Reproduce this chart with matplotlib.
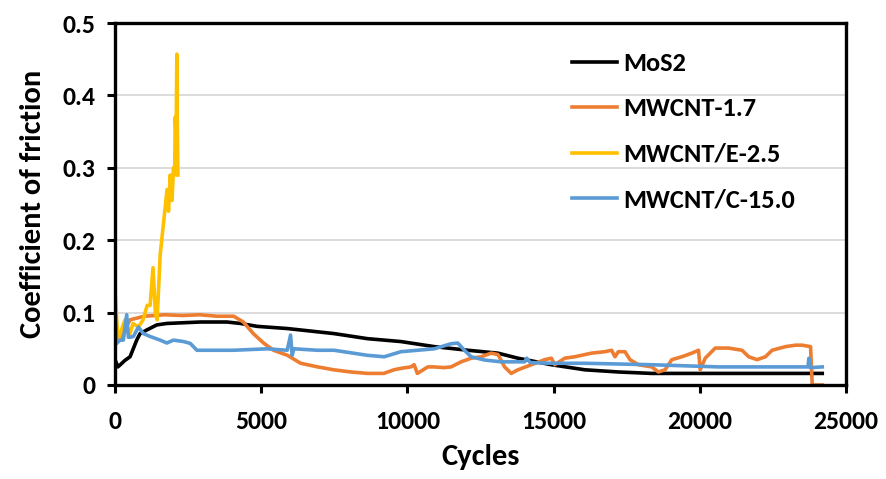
import matplotlib.pyplot as plt
import numpy as np

plt.rcParams['font.family'] = ['Carlito', 'DejaVu Sans']
plt.rcParams['font.weight'] = 'bold'

# MoS2
mos2_x = [0, 100, 340, 515, 743, 857, 1087, 1430, 1773, 2345, 2916, 3831, 4289, 4861,
          5890, 6347, 7491, 8634, 9778, 10921, 12064, 13094, 13781, 14925, 16068,
          17212, 18356, 20643, 22500, 24188]
mos2_y = [0.035, 0.025, 0.034, 0.039, 0.062, 0.071, 0.076, 0.083, 0.085, 0.086, 0.087,
          0.087, 0.085, 0.081, 0.078, 0.076, 0.071, 0.064, 0.060, 0.053, 0.048, 0.044,
          0.037, 0.028, 0.021, 0.018, 0.016, 0.016, 0.016, 0.016]

# MWCNT-1.7
cnt17_x = [0, 200, 515, 1000, 1700, 2300, 2900, 3500, 4060, 4390, 4730, 5080, 5420, 5900,
           6350, 6930, 7480, 8060, 8640, 9190, 9540, 9780, 10120, 10230, 10340, 10700,
           10900, 11250, 11494, 11837, 12180, 12523, 12866, 13100, 13324, 13552, 13781,
           14239, 14696, 14925, 15039, 15382, 15725, 16297, 16754, 16983, 17098, 17212,
           17441, 17612, 17898, 18356, 18584, 18813, 19042, 19385, 19728, 19957, 20014,
           20185, 20528, 20986, 21443, 21672, 21958, 22244, 22473, 22930, 23273, 23502,
           23788, 23845, 24188]
cnt17_y = [0.058, 0.065, 0.090, 0.095, 0.097, 0.096, 0.097, 0.095, 0.095, 0.087, 0.071,
           0.058, 0.048, 0.041, 0.030, 0.025, 0.021, 0.018, 0.016, 0.016, 0.021, 0.023,
           0.025, 0.028, 0.016, 0.025, 0.025, 0.024, 0.025, 0.032, 0.037, 0.039, 0.044,
           0.042, 0.025, 0.016, 0.021, 0.028, 0.035, 0.037, 0.028, 0.037, 0.039, 0.044,
           0.046, 0.048, 0.039, 0.046, 0.046, 0.035, 0.028, 0.025, 0.018, 0.021, 0.035,
           0.039, 0.044, 0.048, 0.021, 0.037, 0.051, 0.051, 0.048, 0.039, 0.035, 0.039,
           0.048, 0.053, 0.055, 0.055, 0.053, 0.0, 0.0]

# MWCNT/E-2.5
cnte_x = [0, 100, 340, 500, 620, 800, 960, 1100, 1200, 1300, 1380, 1440, 1545, 1650,
          1780, 1830, 1890, 1950, 2000, 2040, 2060, 2090, 2115, 2130, 2150]
cnte_y = [0.131, 0.062, 0.090, 0.070, 0.085, 0.080, 0.090, 0.110, 0.110, 0.162, 0.100,
          0.090, 0.180, 0.220, 0.270, 0.240, 0.290, 0.255, 0.300, 0.290, 0.370, 0.340,
          0.457, 0.360, 0.290]

# MWCNT/C-15.0
cntc_x = [0, 15, 57, 172, 286, 400, 457, 515, 629, 800, 972, 1201, 1544, 1773, 2002,
          2345, 2573, 2802, 3145, 4060, 5204, 5890, 6004, 6060, 6118, 6919, 7491, 8634,
          9206, 9778, 10921, 11494, 11723, 11951, 12180, 12637, 13209, 14010, 14080,
          14200, 14925, 16068, 18356, 20643, 23700, 23730, 23780, 24188]
cntc_y = [0.0, 0.097, 0.0575, 0.062, 0.062, 0.097, 0.066, 0.066, 0.067, 0.080, 0.071,
          0.067, 0.062, 0.058, 0.062, 0.060, 0.0575, 0.048, 0.048, 0.048, 0.050, 0.048,
          0.069, 0.041, 0.050, 0.048, 0.048, 0.041, 0.039, 0.046, 0.050, 0.057, 0.058,
          0.048, 0.039, 0.0345, 0.032, 0.032, 0.037, 0.031, 0.030, 0.030, 0.028, 0.025,
          0.025, 0.037, 0.024, 0.025]

series = [
    ("MoS2", mos2_x, mos2_y, "black"),
    ("MWCNT-1.7", cnt17_x, cnt17_y, "#ED7D31"),
    ("MWCNT/E-2.5", cnte_x, cnte_y, "#FFC000"),
    ("MWCNT/C-15.0", cntc_x, cntc_y, "#5B9BD5"),
]

x_ticks = [0, 5000, 10000, 15000, 20000, 25000]
y_ticks = [0, 0.1, 0.2, 0.3, 0.4, 0.5]
y_ticklabels = ["0", "0.1", "0.2", "0.3", "0.4", "0.5"]

fig = plt.figure(figsize=(8.86, 4.79), dpi=100)
ax = fig.add_axes([115 / 886, 1 - 385 / 479, (846 - 115) / 886, (385 - 23) / 479])

for name, xs, ys, color in series:
    ax.plot(xs, ys, color=color, lw=2.6, label=name, solid_joinstyle='round')

ax.set_xlim(0, 25000)
ax.set_ylim(0, 0.5)
ax.set_xticks(x_ticks)
ax.set_xticklabels([str(t) for t in x_ticks])
ax.set_yticks(y_ticks)
ax.set_yticklabels(y_ticklabels)
ax.yaxis.grid(True, color="#d9d9d9", lw=1.3)
ax.set_axisbelow(True)
for s in ax.spines.values():
    s.set_linewidth(2.4)
ax.tick_params(axis='both', direction='out', length=6, width=2.2, labelsize=18.5)
ax.tick_params(axis='x', pad=12)
ax.tick_params(axis='y', pad=8)
for lab in ax.get_xticklabels() + ax.get_yticklabels():
    lab.set_fontweight('bold')

ax.set_xlabel("Cycles", fontsize=22, fontweight='bold', labelpad=8)
ax.set_ylabel("Coefficient of friction", fontsize=22, fontweight='bold', labelpad=12)

ax.legend(loc='upper left', bbox_to_anchor=(572 / 886, 1 - 52 / 479),
          bbox_transform=fig.transFigure, frameon=False, borderpad=0, borderaxespad=0,
          prop={'size': 19, 'weight': 'bold'}, handlelength=1.7, handletextpad=0.25,
          labelspacing=0.85)

fig.savefig("out.png", dpi=100)
